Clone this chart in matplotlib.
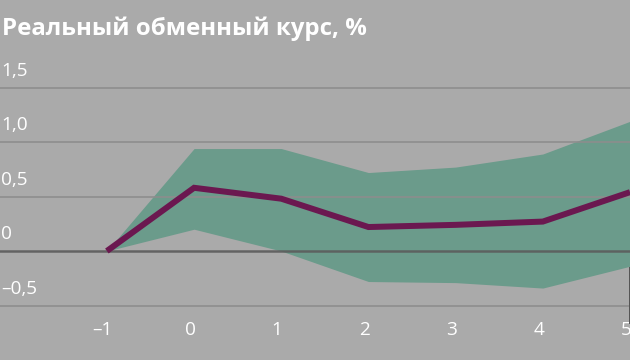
import matplotlib
matplotlib.use("Agg")
import matplotlib.pyplot as plt

# Data
quarters = [-1, 0, 1, 2, 3, 4, 5]
central = [0.0, 0.58, 0.48, 0.22, 0.24, 0.27, 0.54]
upper = [0.0, 0.94, 0.94, 0.72, 0.77, 0.89, 1.19]
lower = [0.0, 0.20, 0.00, -0.28, -0.29, -0.34, -0.14]
y_ticks = [1.5, 1.0, 0.5, 0.0, -0.5]
y_tick_labels = ["1,5", "1,0", "0,5", "0", "–0,5"]
x_tick_labels = ["–1", "0", "1", "2", "3", "4", "5"]
title = "Реальный обменный курс, %"

BG = "#aaaaaa"
BAND = "#6b9b8b"
LINE = "#6b1850"
GRID = "#8d8d8d"
ZERO = "#5c5c5c"
WHITE = "#ffffff"

plt.rcParams['font.family'] = ['Open Sans', 'DejaVu Sans']

fig = plt.figure(figsize=(630/72, 360/72), dpi=72, facecolor=BG)
ax = fig.add_axes([0, 0, 1, 1])
ax.set_facecolor(BG)
ax.set_xlim(-2.226, 5.0)
ax.set_ylim(-1.0, 2.303)
for s in ax.spines.values():
    s.set_visible(False)
ax.set_xticks([])
ax.set_yticks([])

ax.fill_between(quarters, lower, upper, color=BAND, lw=0, zorder=1)

for yv in y_ticks:
    if yv == 0:
        ax.axhline(yv, color=ZERO, lw=2.5, zorder=2, alpha=0.9)
    else:
        ax.axhline(yv, color=GRID, lw=2, zorder=2, alpha=0.8)

ax.plot(quarters, central, color=LINE, lw=6, solid_capstyle='butt',
        solid_joinstyle='miter', zorder=3)

# y labels above gridlines, left aligned
for yv, lab in zip(y_ticks, y_tick_labels):
    ax.annotate(lab, xy=(0, yv), xycoords=('axes fraction', 'data'),
                xytext=(1, 8), textcoords='offset points',
                ha='left', va='bottom', fontsize=19, color=WHITE)

# x labels
for xv, lab in zip(quarters, x_tick_labels):
    ax.annotate(lab, xy=(xv, 0), xycoords=('data', 'axes fraction'),
                xytext=(-4, 30), textcoords='offset points',
                ha='center', va='center', fontsize=19, color=WHITE)

fig.text(2/630, 1 - 29/360, title, ha='left', va='center',
         fontsize=24, fontweight='bold', color=WHITE)

# dark edge mark at right side
ax.plot([1, 1], [(360-268)/360, (360-322)/360], transform=ax.transAxes,
        color="#555555", lw=3, zorder=4, clip_on=False)

fig.savefig("out.png", dpi=72, facecolor=BG)
